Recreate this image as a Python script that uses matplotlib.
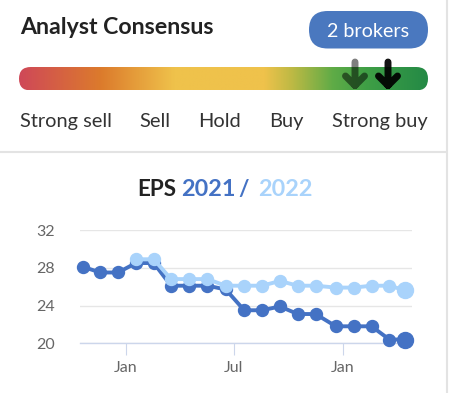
import datetime as dt

import matplotlib
matplotlib.use("Agg")
import matplotlib.pyplot as plt
import numpy as np
from matplotlib.colors import LinearSegmentedColormap
from matplotlib.patches import FancyBboxPatch, PathPatch
from matplotlib.path import Path

plt.rcParams["font.family"] = ["Lato", "DejaVu Sans"]

# --- data ---
ratings = ["Strong sell", "Sell", "Hold", "Buy", "Strong buy"]
broker_count = 2
broker_arrows = [355, 388]          # where the two broker arrows sit on the bar (px)
broker_alpha = [0.5, 0.92]

dates = ["2020-10-21", "2020-11-19", "2020-12-19", "2021-01-18", "2021-02-17",
         "2021-03-18", "2021-04-18", "2021-05-18", "2021-06-18", "2021-07-19",
         "2021-08-18", "2021-09-17", "2021-10-17", "2021-11-16", "2021-12-20",
         "2022-01-19", "2022-02-18", "2022-03-20", "2022-04-16"]
eps_2021 = [28.1, 27.5, 27.5, 28.5, 28.5, 26.1, 26.1, 26.1, 25.7, 23.5,
            23.5, 23.9, 23.1, 23.1, 21.8, 21.8, 21.8, 20.4, 20.4]
eps_2022 = [np.nan, np.nan, np.nan, 28.9, 28.9, 26.8, 26.8, 26.8, 26.1, 26.1,
            26.1, 26.6, 26.1, 26.1, 25.9, 25.9, 26.1, 26.1, 25.6]
y_ticks = [20, 24, 28, 32]
x_ticks = ["2021-01-01", "2021-07-01", "2022-01-01"]
x_tick_labels = ["Jan", "Jul", "Jan"]

dark_blue = "#4472c4"
light_blue = "#a9d3fb"

W, H = 452, 393
fig = plt.figure(figsize=(W / 100, H / 100), dpi=100)

# background axes in pixel coordinates for the card
bg = fig.add_axes([0, 0, 1, 1])
bg.axis("off")

bg.text(20, 33.5, "Analyst Consensus", fontsize=16.7, fontweight="bold",
        color="#222222", va="baseline")

btn = FancyBboxPatch((309, 11), 119, 37.5,
                     boxstyle="round,pad=0,rounding_size=18.7",
                     fc="#4a78bf", ec="none")
bg.add_patch(btn)
bg.text(368.5, 36.8, f"{broker_count} brokers", fontsize=14.2, color="white",
        ha="center", va="baseline")

# gradient bar
stops = [(0.0, "#cf4858"), (0.2, "#dc7b2c"), (0.38, "#efc24b"), (0.6, "#efc24b"),
         (0.67, "#bcb944"), (0.77, "#5eab47"), (0.85, "#3f9f45"), (1.0, "#248a46")]
cmap = LinearSegmentedColormap.from_list("consensus", stops)
bar = FancyBboxPatch((19, 67), 409, 23.5, boxstyle="round,pad=0,rounding_size=11.75",
                     fc="none", ec="none")
bg.add_patch(bar)
im = bg.imshow(np.linspace(0, 1, 512)[None, :], cmap=cmap, aspect="auto",
               extent=(19, 428, 90.5, 67), interpolation="bilinear")
im.set_clip_path(bar)

for x, a in zip(broker_arrows, broker_alpha):
    verts = [(x, 62), (x, 85.5), (x - 9.5, 76), (x, 85.5), (x + 9.5, 76)]
    codes = [Path.MOVETO, Path.LINETO, Path.MOVETO, Path.LINETO, Path.LINETO]
    bg.add_patch(PathPatch(Path(verts, codes), fc="none", ec="black", alpha=a,
                           lw=5, capstyle="round", joinstyle="round"))

label_x = [65.7, 155, 220, 286.7, 379.5]
for x, lab in zip(label_x, ratings):
    bg.text(x, 126.8, lab, fontsize=14.4, color="#333333", ha="center", va="baseline")

bg.plot([0, 446.5], [152, 152], color="#e3e3e3", lw=1.5)
bg.plot([447.2, 447.2], [0, H], color="#e3e3e3", lw=1.5)

# chart title in pieces
ty = 196
bg.text(137, ty, "EPS", fontsize=16.2, fontweight="bold", color="#222222", va="baseline")
bg.text(181.5, ty, "2021", fontsize=16.8, fontweight="bold", color=dark_blue, va="baseline")
bg.text(238, ty, "/", fontsize=16.2, fontweight="bold", color=dark_blue, va="baseline")
bg.text(258, ty, "2022", fontsize=16.8, fontweight="bold", color=light_blue, va="baseline")

bg.set_xlim(0, W)
bg.set_ylim(H, 0)

# EPS chart
ax = fig.add_axes([80 / W, (H - 343.3) / H, 332 / W, (343.3 - 230) / H])
ax.patch.set_alpha(0)
x = [dt.datetime.fromisoformat(d) for d in dates]

ax.plot(x, eps_2021, color=dark_blue, lw=2.8, marker="o", ms=8.6, clip_on=False, zorder=3)
ax.plot(x[-1], eps_2021[-1], "o", color=dark_blue, ms=11.5, clip_on=False, zorder=3)
ax.plot(x, eps_2022, color=light_blue, lw=2.8, marker="o", ms=8.6, clip_on=False, zorder=4)
ax.plot(x[-1], eps_2022[-1], "o", color=light_blue, ms=11.5, clip_on=False, zorder=4)

ax.set_xlim(dt.datetime(2020, 10, 16), dt.datetime(2022, 4, 27))
ax.set_ylim(20, 32)
ax.set_yticks(y_ticks)
ax.set_xticks([dt.datetime.fromisoformat(d) for d in x_ticks])
ax.set_xticklabels(x_tick_labels)
ax.grid(axis="y", color="#e6e6e6", lw=1)
ax.set_axisbelow(True)
for s in ["top", "right", "left"]:
    ax.spines[s].set_visible(False)
ax.spines["bottom"].set_color("#ccd6eb")
ax.spines["bottom"].set_linewidth(1)
ax.spines["bottom"].set_zorder(2)
ax.tick_params(axis="y", length=0, pad=18, labelsize=11.5, labelcolor="#666666")
ax.tick_params(axis="x", length=8.5, width=0.8, color="#ccd6eb", pad=4,
               labelsize=11.5, labelcolor="#666666")

fig.savefig("out.png", dpi=100)
